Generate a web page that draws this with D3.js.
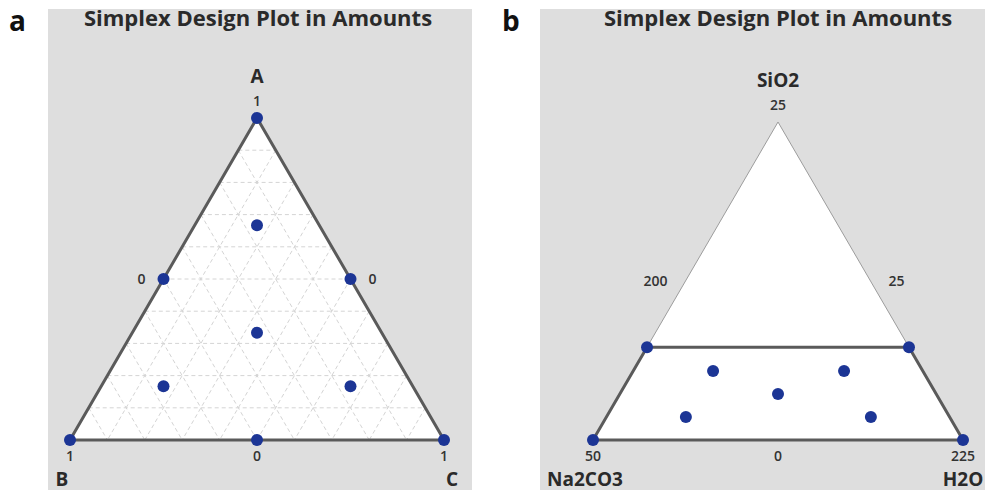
<!DOCTYPE html>
<html>
<head>
<meta charset="utf-8">
<script src="https://cdn.jsdelivr.net/npm/d3@7"></script>
<style>
  body { margin: 0; background: #fff; }
  text { font-family: "Open Sans", "Noto Sans", sans-serif; }
</style>
</head>
<body>
<svg id="chart"></svg>
<script>
// ---- data (barycentric fractions: [top, left, right]) ----
const titleText = 'Simplex Design Plot in Amounts';

const namesA = ['A', 'B', 'C'];
const ticksA = { top: '1', leftMid: '0', rightMid: '0', left: '1', bottomMid: '0', right: '1' };
const pointsA = [
    [1, 0, 0], [0, 1, 0], [0, 0, 1],
    [0.5, 0.5, 0], [0.5, 0, 0.5], [0, 0.5, 0.5],
    [1 / 3, 1 / 3, 1 / 3],
    [2 / 3, 1 / 6, 1 / 6], [1 / 6, 2 / 3, 1 / 6], [1 / 6, 1 / 6, 2 / 3]
];
const gridSteps = [0.1, 0.2, 0.3, 0.4, 0.5, 0.6, 0.7, 0.8, 0.9];

const namesB = ['SiO2', 'Na2CO3', 'H2O'];
const ticksB = { top: '25', leftMid: '200', rightMid: '25', left: '50', bottomMid: '0', right: '225' };
const regionB = [[0.292, 0.708, 0], [0.292, 0, 0.708], [0, 0, 1], [0, 1, 0]];
const pointsB = [
    [0.292, 0.708, 0], [0.292, 0, 0.708],
    [0.217, 0.567, 0.216], [0.217, 0.213, 0.570],
    [0.145, 0.4275, 0.4275],
    [0.072, 0.713, 0.215], [0.072, 0.213, 0.715],
    [0, 1, 0], [0, 0, 1]
];

class SimplexPlot {
    constructor(_config) {
        this.config = _config;
        this.initVis();
    }

    initVis() {
        let vis = this;
        const c = vis.config;

        vis.g = c.svg.append('g');

        // grey panel
        vis.g.append('rect')
            .attr('x', c.panel[0]).attr('y', c.panel[1])
            .attr('width', c.panel[2]).attr('height', c.panel[3])
            .attr('fill', '#dedede');

        vis.g.append('text')
            .attr('x', c.letterX).attr('y', 31)
            .attr('font-family', 'Liberation Sans, Arial, sans-serif')
            .attr('font-size', 28).attr('font-weight', 'bold')
            .attr('fill', '#111')
            .text(c.letter);

        vis.g.append('text')
            .attr('x', c.titleX).attr('y', 26)
            .attr('text-anchor', 'middle')
            .attr('font-size', 22).attr('font-weight', 'bold')
            .attr('fill', '#2a2a2a')
            .text(titleText);

        // x runs along base (0 = left corner, 1 = right corner), y is the top component
        vis.xScale = d3.scaleLinear().domain([0, 1]).range([c.left, c.right]);
        vis.yScale = d3.scaleLinear().domain([0, 1]).range([c.bottom, c.top]);
        vis.proj = d => [vis.xScale(d[2] + d[0] / 2), vis.yScale(d[0])];
        vis.line = d3.line().x(d => vis.proj(d)[0]).y(d => vis.proj(d)[1]);
    }

    renderVis() {
        let vis = this;
        const c = vis.config;
        const corners = [[1, 0, 0], [0, 1, 0], [0, 0, 1]];

        vis.g.append('path')
            .attr('d', vis.line(corners) + 'Z')
            .attr('fill', '#fff')
            .attr('stroke', c.region ? '#9c9c9c' : 'none')
            .attr('stroke-width', 1);

        if (c.grid) {
            const lines = [];
            c.grid.forEach(t => {
                lines.push([[t, 1 - t, 0], [t, 0, 1 - t]]);
                lines.push([[1 - t, t, 0], [0, t, 1 - t]]);
                lines.push([[1 - t, 0, t], [0, 1 - t, t]]);
            });
            vis.g.selectAll('.grid').data(lines).join('path')
                .attr('class', 'grid')
                .attr('d', vis.line)
                .attr('fill', 'none')
                .attr('stroke', '#d4d4d4')
                .attr('stroke-width', 1)
                .attr('stroke-dasharray', '4,3');
        }

        vis.g.append('path')
            .attr('d', vis.line(c.region || corners) + 'Z')
            .attr('fill', 'none')
            .attr('stroke', '#5a5a5a')
            .attr('stroke-width', 3);

        vis.g.selectAll('.pt').data(c.points).join('circle')
            .attr('class', 'pt')
            .attr('cx', d => vis.proj(d)[0])
            .attr('cy', d => vis.proj(d)[1])
            .attr('r', 6)
            .attr('fill', '#1c3595');

        // tick labels
        const tk = c.ticks;
        const top = vis.proj([1, 0, 0]);
        const lm = vis.proj([0.5, 0.5, 0]);
        const rm = vis.proj([0.5, 0, 0.5]);
        const bl = vis.proj([0, 1, 0]);
        const br = vis.proj([0, 0, 1]);
        const bm = vis.proj([0, 0.5, 0.5]);
        const tickLabels = [
            { x: top[0], y: top[1] - 12, a: 'middle', t: tk.top },
            { x: lm[0] - 18, y: lm[1] + 5, a: 'end', t: tk.leftMid },
            { x: rm[0] + 18, y: rm[1] + 5, a: 'start', t: tk.rightMid },
            { x: bl[0], y: bl[1] + 21, a: 'middle', t: tk.left },
            { x: bm[0], y: bm[1] + 21, a: 'middle', t: tk.bottomMid },
            { x: br[0], y: br[1] + 21, a: 'middle', t: tk.right }
        ];
        vis.g.selectAll('.tick').data(tickLabels).join('text')
            .attr('class', 'tick')
            .attr('x', d => d.x).attr('y', d => d.y)
            .attr('text-anchor', d => d.a)
            .attr('font-size', 14).attr('font-weight', 600)
            .attr('fill', '#333')
            .text(d => d.t);

        const nameLabels = [
            { x: top[0], y: top[1] - 35, t: c.names[0] },
            { x: bl[0] - 8, y: bl[1] + 46, t: c.names[1] },
            { x: Math.min(br[0] + 8, 963), y: br[1] + 46, t: c.names[2] }
        ];
        vis.g.selectAll('.name').data(nameLabels).join('text')
            .attr('class', 'name')
            .attr('x', d => d.x).attr('y', d => d.y)
            .attr('text-anchor', 'middle')
            .attr('font-size', 19).attr('font-weight', 'bold')
            .attr('fill', '#2a2a2a')
            .text(d => d.t);
    }
}

const svg = d3.select('#chart').attr('width', 985).attr('height', 492);

const plotA = new SimplexPlot({
    svg: svg, letter: 'a', letterX: 9,
    panel: [48, 9, 424, 481], titleX: 258,
    left: 70, right: 444, bottom: 440, top: 118,
    names: namesA, ticks: ticksA, points: pointsA, grid: gridSteps
});
plotA.renderVis();

const plotB = new SimplexPlot({
    svg: svg, letter: 'b', letterX: 502,
    panel: [540, 9, 450, 481], titleX: 778,
    left: 593, right: 963, bottom: 440, top: 122,
    names: namesB, ticks: ticksB, points: pointsB, region: regionB
});
plotB.renderVis();
</script>
</body>
</html>
